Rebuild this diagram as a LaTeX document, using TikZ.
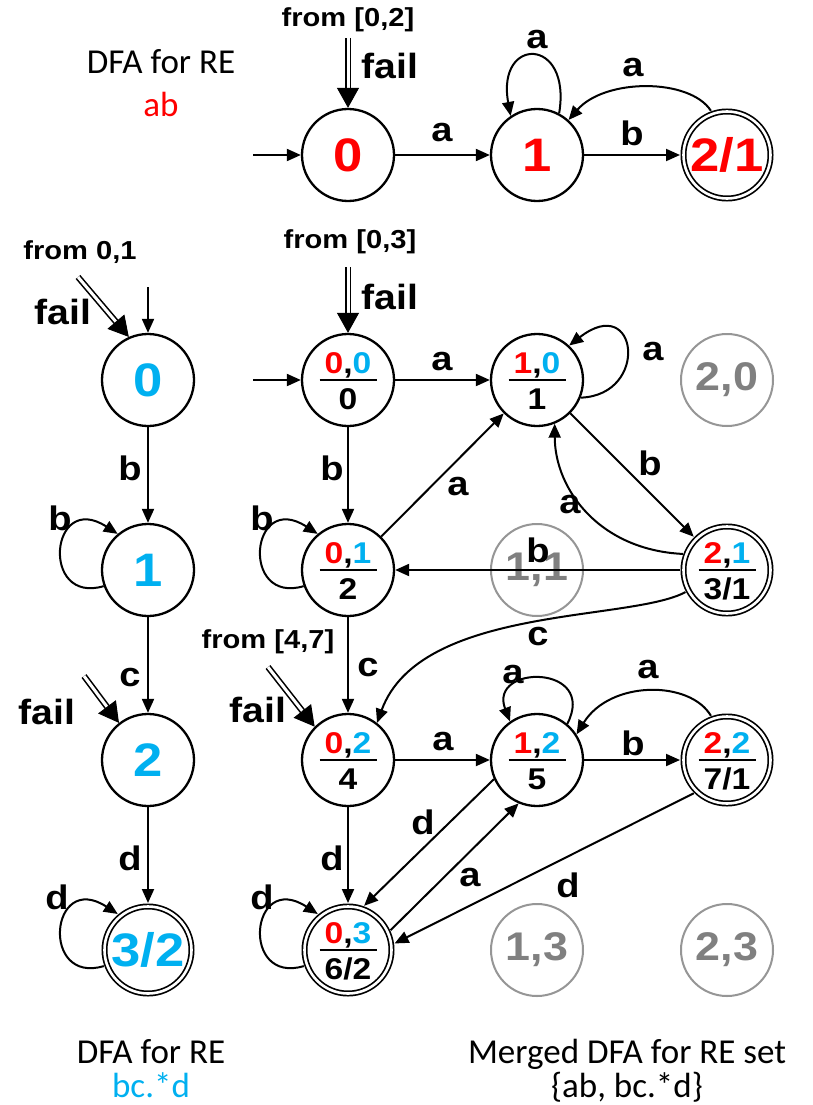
\documentclass[tikz,border=0pt]{standalone}
\usepackage{fontspec}
\setmainfont{Liberation Sans}[FakeStretch=1.12]
\newfontfamily\capfont{Carlito}
\usetikzlibrary{arrows.meta,calc}

\definecolor{rred}{RGB}{255,0,0}
\definecolor{rblue}{RGB}{0,176,240}
\definecolor{ghostring}{RGB}{150,150,150}
\definecolor{ghosttext}{RGB}{128,128,128}

\newcommand\fsz[1]{\fontsize{#1}{#1}\selectfont}
% coloured state pair over a fraction bar, with the merged state number below
\newcommand\pairlbl[2]{\rule[-30pt]{0pt}{60pt}%
  \makebox[0pt]{\raisebox{7pt}{#1}}%
  \makebox[0pt]{\rule[-1.1pt]{57pt}{2.2pt}}%
  \makebox[0pt]{\raisebox{-29pt}{#2}}}
\newcommand\rbpair[2]{\textcolor{rred}{#1},\textcolor{rblue}{#2}}

\tikzset{
  st/.style={circle, draw, line width=2.3pt, minimum size=92pt, inner sep=0pt,
    font=\bfseries\fsz{47}},
  acc/.style={st, double, double distance=2.6pt, line width=1.7pt,
    minimum size=87pt, outer sep=3.5pt},
  pair/.style={st, font=\bfseries\fsz{30}},
  pairacc/.style={acc, font=\bfseries\fsz{30}},
  ghost/.style={circle, draw=ghostring, line width=2pt, minimum size=92pt,
    inner sep=0pt, text=ghosttext, font=\bfseries\fsz{40}},
  tr/.style={line width=2pt, -{Triangle[length=14pt,width=12pt]}},
  lbl/.style={font=\bfseries\fsz{34}, inner sep=0pt},
  note/.style={font=\bfseries\fsz{26}, inner sep=0pt},
  failtxt/.style={font=\bfseries\fsz{35}, inner sep=0pt},
  failshaft/.style={double, double distance=3pt, line width=1.6pt},
  failtip/.style={line width=1pt, -{Triangle[length=20pt,width=22pt]}},
  captxt/.style={font=\capfont\fsz{35}, inner sep=0pt, anchor=base},
}

\begin{document}
\begin{tikzpicture}[x=1pt, y=-1pt]
\useasboundingbox[fill=white] (0,0) rectangle (812,1105);

% ---------------- DFA for ab ----------------
\node[captxt] (capA1) at (161,74) {DFA for RE};
\node[captxt, text=rred] (capA2) at (161,117) {ab};

\node[st, text=rred] (T0) at (348,155) {0};
\node[st, text=rred] (T1) at (537,155) {1};
\node[acc, text=rred] (T2) at (727,155) {2/1};

\coordinate (i0) at (253,155);
\draw[tr] (i0) -- (T0);
\draw[tr] (T0) -- (T1);
\draw[tr] (T1) -- (T2);
\draw[tr] (T1.62) .. controls (572,36) and (496,36) .. (T1.124);
\draw[tr] (T2.110) .. controls (690,78) and (605,78) .. (T1.48);

\node[lbl] (lT01) at (442,133) {a};
\node[lbl] (lT12) at (632,133) {b};
\node[lbl] (lT11) at (537,40) {a};
\node[lbl] (lT21) at (633,68) {a};

\node[note] (nT) at (348,20) {from [0,2]};
\node[failtxt] (fT) at (390,66) {fail};
\coordinate (f0) at (348,38);
\draw[failshaft] (f0) -- ($(T0.north)!18pt!(f0)$);
\draw[failtip] ($(T0.north)!20pt!(f0)$) -- (T0.north);

% ---------------- DFA for bc.*d ----------------
\node[st, text=rblue] (L0) at (148,380) {0};
\node[st, text=rblue] (L1) at (148,570) {1};
\node[st, text=rblue] (L2) at (148,760) {2};
\node[acc, text=rblue] (L3) at (148,950) {3/2};

\coordinate (i1) at (148,287);
\draw[tr] (i1) -- (L0);
\draw[tr] (L0) -- (L1);
\draw[tr] (L1) -- (L2);
\draw[tr] (L2) -- (L3);
\draw[tr] (L1.200) .. controls (40,605) and (50,490) .. (L1.130);
\draw[tr] (L3.200) .. controls (40,985) and (50,870) .. (L3.130);

\node[lbl] (lL01) at (130,468) {b};
\node[lbl] (lL12) at (130,678) {c};
\node[lbl] (lL23) at (130,858) {d};
\node[lbl] (lL11) at (60,518) {b};
\node[lbl] (lL33) at (57,897) {d};

\node[note] (nL) at (80,252) {from 0,1};
\node[failtxt] (fL0) at (63,312) {fail};
\coordinate (f1) at (78,277);
\draw[failshaft] (f1) -- ($(L0.114)!18pt!(f1)$);
\draw[failtip] ($(L0.114)!20pt!(f1)$) -- (L0.114);

\node[failtxt] (fL2) at (47,712) {fail};
\coordinate (f2) at (84,676);
\draw[failshaft] (f2) -- ($(L2.128)!18pt!(f2)$);
\draw[failtip] ($(L2.128)!20pt!(f2)$) -- (L2.128);

\node[captxt] (capB1) at (151,1063) {DFA for RE};
\node[captxt, text=rblue] (capB2) at (151,1097) {bc.*d};

% ---------------- merged DFA ----------------
\node[ghost] (G20) at (727,380) {2,0};
\node[ghost] (G11) at (537,570) {1,1};
\node[ghost] (G13) at (537,950) {1,3};
\node[ghost] (G23) at (727,950) {2,3};

\node[pair] (M0) at (348,380) {\pairlbl{\rbpair{0}{0}}{0}};
\node[pair] (M1) at (537,380) {\pairlbl{\rbpair{1}{0}}{1}};
\node[pair] (M2) at (348,570) {\pairlbl{\rbpair{0}{1}}{2}};
\node[pairacc] (M3) at (727,570) {\pairlbl{\rbpair{2}{1}}{3/1}};
\node[pair] (M4) at (348,760) {\pairlbl{\rbpair{0}{2}}{4}};
\node[pair] (M5) at (537,760) {\pairlbl{\rbpair{1}{2}}{5}};
\node[pairacc] (M7) at (727,760) {\pairlbl{\rbpair{2}{2}}{7/1}};
\node[pairacc] (M6) at (348,950) {\pairlbl{\rbpair{0}{3}}{6/2}};

\coordinate (i2) at (253,380);
\draw[tr] (i2) -- (M0);
\draw[tr] (M0) -- (M1);
\draw[tr] (M0) -- (M2);
\draw[tr] (M1.-22) .. controls (650,395) and (638,292) .. (M1.47);
\draw[tr] (M2) -- (M1);
\draw[tr] (M1) -- (M3);
\draw[tr] (M3.160) .. controls (600,550) and (555,490) .. (M1.-68);
\draw[tr] (M3) -- (M2);
\draw[tr] (M3.208) .. controls (630,622) and (420,605) .. (M4.52);
\draw[tr] (M2) -- (M4);
\draw[tr] (M2.200) .. controls (240,605) and (250,490) .. (M2.130);
\draw[tr] (M4) -- (M5);
\draw[tr] (M5.50) .. controls (598,664) and (488,664) .. (M5.125);
\draw[tr] (M7.110) .. controls (690,680) and (610,680) .. (M5.33);
\draw[tr] (M5) -- (M7);
\draw[tr] (M4) -- (M6);
\draw[tr] (M5.204) -- (M6.70);
\draw[tr] (M6.25) -- (M5.247);
\draw[tr] (M7.225) -- (M6.8);
\draw[tr] (M6.200) .. controls (240,985) and (250,870) .. (M6.130);

\node[lbl] (lM01) at (442,362) {a};
\node[lbl] (lM02) at (332,468) {b};
\node[lbl] (lM11) at (653,352) {a};
\node[lbl] (lM21) at (458,487) {a};
\node[lbl] (lM13) at (650,463) {b};
\node[lbl] (lM31) at (570,505) {a};
\node[lbl] (lM32) at (538,550) {b};
\node[lbl] (lM34) at (538,637) {c};
\node[lbl] (lM24) at (368,668) {c};
\node[lbl] (lM22) at (262,518) {b};
\node[lbl] (lM45) at (443,742) {a};
\node[lbl] (lM55) at (513,675) {a};
\node[lbl] (lM75) at (648,670) {a};
\node[lbl] (lM57) at (633,743) {b};
\node[lbl] (lM46) at (332,858) {d};
\node[lbl] (lM56) at (423,822) {d};
\node[lbl] (lM65) at (470,878) {a};
\node[lbl] (lM76) at (568,885) {d};
\node[lbl] (lM66) at (262,897) {d};

\node[note] (nM0) at (350,242) {from [0,3]};
\node[failtxt] (fM0) at (390,297) {fail};
\coordinate (f3) at (348,267);
\draw[failshaft] (f3) -- ($(M0.north)!18pt!(f3)$);
\draw[failtip] ($(M0.north)!20pt!(f3)$) -- (M0.north);

\node[note] (nM4) at (268,642) {from [4,7]};
\node[failtxt] (fM4) at (258,710) {fail};
\coordinate (f4) at (268,667);
\draw[failshaft] (f4) -- ($(M4.135)!18pt!(f4)$);
\draw[failtip] ($(M4.135)!20pt!(f4)$) -- (M4.135);

\node[captxt] (capC1) at (627,1063) {Merged DFA for RE set};
\node[captxt] (capC2) at (627,1097) {\{ab, bc.*d\}};
\end{tikzpicture}
\end{document}
